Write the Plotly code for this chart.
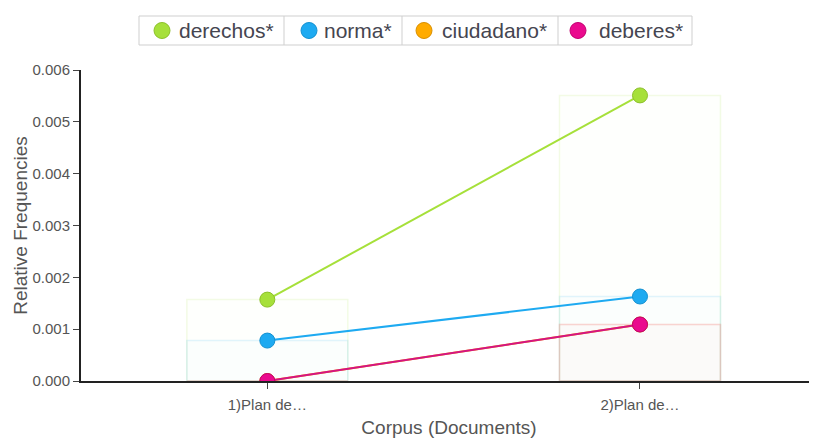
import plotly.graph_objects as go

# data
docs = ["1)Plan de…", "2)Plan de…"]
terms = ["derechos*", "norma*", "ciudadano*", "deberes*"]
derechos = [0.00157, 0.00551]
norma = [0.00078, 0.00163]
ciudadano = [0.0, 0.00109]
deberes = [0.0, 0.00109]
colors = ["#a6e03a", "#1eaaf1", "#ffab00", "#ea0a8e"]
edges = ["#8cc02a", "#1390d0", "#d98f00", "#c2006f"]
values = [derechos, norma, ciudadano, deberes]

# page has an 8px body margin, so the figure is a little smaller than the window
OFF = 8
W, H = 817 - OFF, 438 - OFF
L, R, T, B = 81 - OFF, 0, 70 - OFF, 57
pw, ph = W - L - R, H - T - B


def px(x):
    return (x - OFF - L) / pw


def py(y):
    return (H - B - (y - OFF)) / ph


def rgba(hexc, a):
    h = hexc.lstrip("#")
    return "rgba(%d,%d,%d,%s)" % (int(h[0:2], 16), int(h[2:4], 16), int(h[4:6], 16), a)


xs = list(range(len(docs)))
fig = go.Figure()

# faint background bars
for name, vals, c in zip(terms, values, colors):
    fig.add_trace(go.Bar(x=xs, y=vals, width=0.432, name=name, showlegend=False,
                         marker=dict(color=rgba(c, 0.012), line=dict(color=rgba(c, 0.13), width=1.5)),
                         hoverinfo="skip"))

# lines with markers
line_cols = ["#a6e03a", "#1eaaf1", "#ffab00", "#d41482"]
for name, vals, c, e, lc in zip(terms, values, colors, edges, line_cols):
    fig.add_trace(go.Scatter(x=xs, y=vals, mode="lines+markers", name=name, showlegend=False,
                             line=dict(color=lc, width=2),
                             marker=dict(size=15, color=c, line=dict(color=e, width=1))))

fig.update_layout(
    width=W, height=H, barmode="overlay",
    margin=dict(l=L, r=R, t=T, b=B),
    plot_bgcolor="white", paper_bgcolor="white",
    font=dict(family="Liberation Sans, Arial, sans-serif", color="#555"),
    showlegend=False,
)
fig.update_xaxes(range=[-0.5, 1.475], tickvals=xs, ticktext=docs, showgrid=False, zeroline=False,
                 showline=True, linecolor="#222", linewidth=2, ticks="outside", ticklen=6,
                 tickcolor="#444", tickfont=dict(size=15, color="#555"), ticklabelstandoff=3,
                 title=dict(text="Corpus (Documents)", font=dict(size=19, color="#555"), standoff=10))
fig.update_yaxes(range=[0, 0.006], dtick=0.001, tickformat=".3f", showgrid=False, zeroline=False,
                 showline=True, linecolor="#222", linewidth=2, ticks="outside", ticklen=6,
                 tickcolor="#444", tickfont=dict(size=15, color="#555"),
                 title=dict(text="Relative Frequencies", font=dict(size=19, color="#555"), standoff=0))

# legend drawn by hand: boxed row with separators (page pixel positions)
box_l, box_r, box_t, box_b = 139, 692, 16, 45
seps = [284, 402, 558]
dots = [162, 309, 424, 578]
texts = [177, 322, 440, 597]
cy, r = 30.5, 8

shapes = [dict(type="rect", xref="paper", yref="paper", x0=px(box_l), x1=px(box_r),
               y0=py(box_b), y1=py(box_t), line=dict(color="#cfcfcf", width=1), fillcolor="white")]
for s in seps:
    shapes.append(dict(type="line", xref="paper", yref="paper", x0=px(s), x1=px(s),
                       y0=py(box_b), y1=py(box_t), line=dict(color="#cfcfcf", width=1)))
annotations = []
for name, c, e, dx, tx in zip(terms, colors, edges, dots, texts):
    shapes.append(dict(type="circle", xref="paper", yref="paper", x0=px(dx - r), x1=px(dx + r),
                       y0=py(cy + r), y1=py(cy - r), fillcolor=c, line=dict(color=e, width=1)))
    annotations.append(dict(text=name, xref="paper", yref="paper", x=px(tx), y=py(cy),
                            xanchor="left", yanchor="middle", showarrow=False,
                            font=dict(size=21, color="#454550")))
fig.update_layout(shapes=shapes, annotations=annotations)

fig.write_html("out.html")
